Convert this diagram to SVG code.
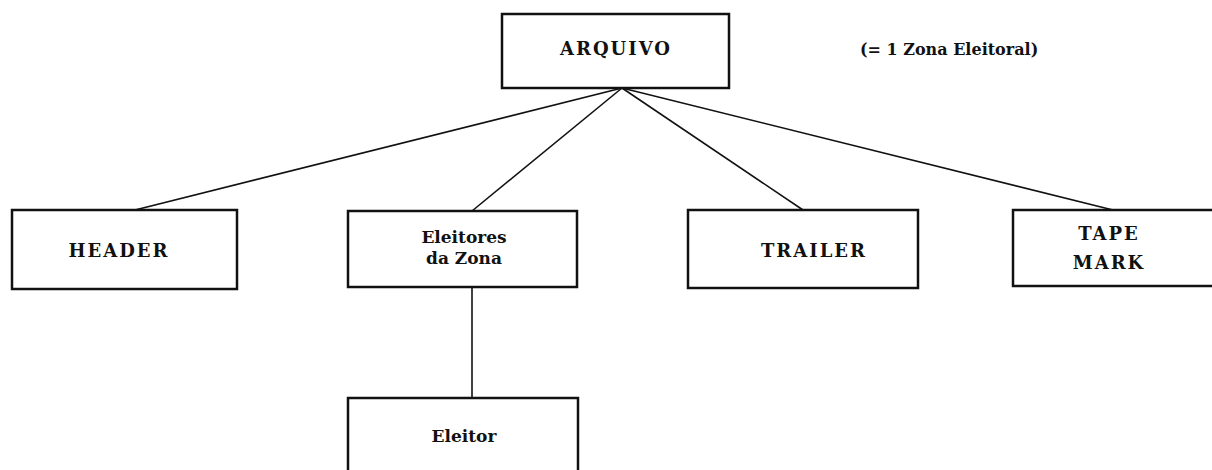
<svg xmlns="http://www.w3.org/2000/svg" width="1212" height="470" viewBox="0 0 1212 470">
<style>
.box{fill:#fff;stroke:#111;stroke-width:2.5}
.t{font-family:"DejaVu Serif","Liberation Serif",serif;font-weight:bold;font-size:17px;fill:#111;text-anchor:middle}
.caps{font-size:18px;letter-spacing:2px}
.conn line{stroke:#111;stroke-width:1.6}
</style>
<rect width="1212" height="470" fill="#fff"/>
<g id="connectors" class="conn">
<line x1="622" y1="88" x2="135" y2="210"/>
<line x1="622" y1="88" x2="472" y2="211"/>
<line x1="622" y1="88" x2="803" y2="210"/>
<line x1="622" y1="88" x2="1113" y2="210"/>
<line x1="472" y1="287" x2="472" y2="398"/>
</g>
<g id="arquivo">
<rect class="box" x="502" y="14" width="227" height="74"/>
<text class="t caps" x="616" y="55">ARQUIVO</text>
</g>
<g id="note">
<text class="t" x="860" y="55" style="text-anchor:start;font-size:16px">(= 1 Zona Eleitoral)</text>
</g>
<g id="header">
<rect class="box" x="12" y="210" width="225" height="79"/>
<text class="t caps" x="119" y="257">HEADER</text>
</g>
<g id="eleitores">
<rect class="box" x="348" y="211" width="229" height="76"/>
<text class="t" x="464" y="243">Eleitores</text>
<text class="t" x="464" y="264">da Zona</text>
</g>
<g id="trailer">
<rect class="box" x="688" y="210" width="230" height="78"/>
<text class="t caps" x="814" y="257">TRAILER</text>
</g>
<g id="tapemark">
<rect class="box" x="1013" y="210" width="205" height="76"/>
<text class="t caps" x="1109" y="240">TAPE</text>
<text class="t caps" x="1109" y="269">MARK</text>
</g>
<g id="eleitor">
<rect class="box" x="348" y="398" width="230" height="80"/>
<text class="t" x="464" y="442">Eleitor</text>
</g>
</svg>
